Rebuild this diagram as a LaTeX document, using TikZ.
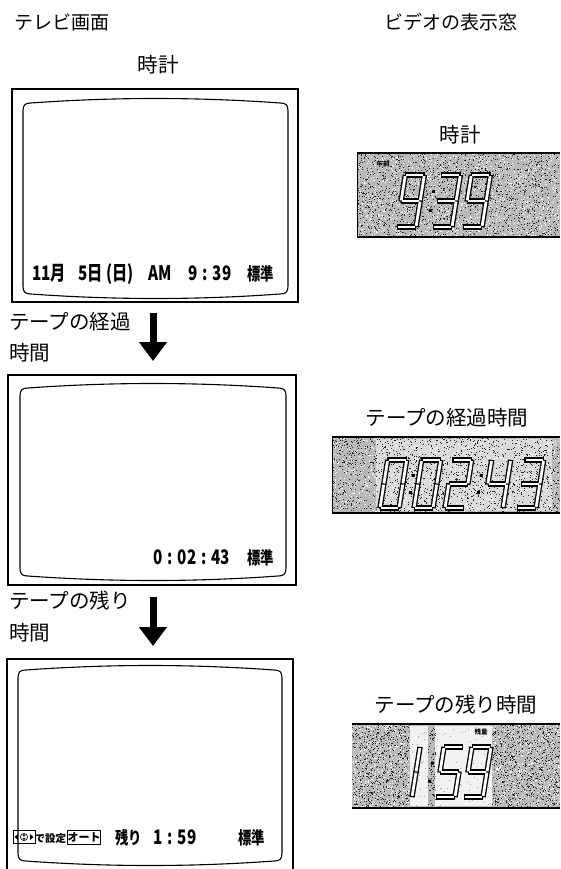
\documentclass[tikz,border=0pt]{standalone}
\usepackage{fontspec}
\setmainfont{Noto Sans CJK JP}
\newfontfamily\osdfont[FakeStretch=0.76]{Noto Sans CJK JP}
\newfontfamily\dejavu{DejaVu Sans}
\usetikzlibrary{arrows.meta}

\tikzset{
  outerbox/.style={line width=2pt},
  screen/.style={line width=1.1pt, line join=round},
  ttl/.style={font=\fontsize{19}{22}\selectfont, inner sep=0pt},
  lbl/.style={font=\fontsize{20.5}{24}\selectfont, inner sep=0pt},
  osd/.style={font=\osdfont\bfseries\fontsize{20}{22}\selectfont, inner sep=0pt, anchor=base west},
  osdk/.style={font=\osdfont\bfseries\fontsize{17.5}{20}\selectfont, inner sep=0pt, anchor=base west},
  osds/.style={font=\bfseries\fontsize{10.5}{12}\selectfont, inner sep=0pt, anchor=base west},
  flow/.style={line width=7pt, -{Triangle[length=19pt,width=27pt]}},
  segout/.style={line width=5.4pt, line cap=rect, black},
  segin/.style={line width=2.8pt, line cap=rect, white},
  tiny/.style={font=\bfseries\fontsize{6.5}{7}\selectfont, inner sep=0pt},
  dispedge/.style={line width=1.6pt},
}

% inner TV screen: x1, ytop, x2, ybottom
\newcommand\tvscreen[4]{%
  \draw[screen] (#1,#2+8) .. controls (#1,#2+2) and (#1+2,#2) .. (#1+8,#2)
    .. controls ({#1+8+(#3-#1-16)/3},#2-6) and ({#3-8-(#3-#1-16)/3},#2-6) .. (#3-8,#2)
    .. controls (#3-2,#2) and (#3,#2+2) .. (#3,#2+8)
    -- (#3,#4-8) .. controls (#3,#4-2) and (#3-2,#4) .. (#3-8,#4)
    .. controls ({#3-8-(#3-#1-16)/3},#4+6) and ({#1+8+(#3-#1-16)/3},#4+6) .. (#1+8,#4)
    .. controls (#1+2,#4) and (#1,#4-2) .. (#1,#4-8) -- cycle;}

% random speckle texture
\newcommand\speckle[6]{%
  \foreach \i in {1,...,#5}{\fill[#6] ({#1+rnd*(#3-#1)},{#2+rnd*(#4-#2)}) rectangle ++(1,1);}}

% seven-segment digits
\newcommand\segA{\draw[segcur] (2.5,-\dH) -- (\dW-2.5,-\dH);}
\newcommand\segB{\draw[segcur] (\dW,-\dH+2.5) -- (\dW,-\dH/2-2);}
\newcommand\segC{\draw[segcur] (\dW,-\dH/2+2) -- (\dW,-2.5);}
\newcommand\segD{\draw[segcur] (2.5,0) -- (\dW-2.5,0);}
\newcommand\segE{\draw[segcur] (0,-\dH/2+2) -- (0,-2.5);}
\newcommand\segF{\draw[segcur] (0,-\dH+2.5) -- (0,-\dH/2-2);}
\newcommand\segG{\draw[segcur] (2.5,-\dH/2) -- (\dW-2.5,-\dH/2);}
\newcommand\sevdigit[5]{%
  \begin{scope}[shift={(#1,#2)},xslant=0.16]
    \def\dH{#3}\def\dW{#4}%
    \tikzset{segcur/.style={segout}}%
    \foreach \s in {#5}{\csname seg\s\endcsname}
    \tikzset{segcur/.style={segin}}%
    \foreach \s in {#5}{\csname seg\s\endcsname}
  \end{scope}}
\newcommand\sevcolon[3]{%
  \begin{scope}[shift={(#1,#2)},xslant=0.16]
    \fill[black] (-1.5,-#3*0.32-1.5) rectangle ++(3,3);
    \fill[black] (-1.5,-#3*0.68-1.5) rectangle ++(3,3);
  \end{scope}}

\begin{document}
\begin{tikzpicture}[x=1pt,y=-1pt]
\pgfmathsetseed{11}
\useasboundingbox (0,0) rectangle (560,869);
\fill[white] (0,0) rectangle (560,869);

% ---------- titles ----------
\node[ttl, anchor=west] (tvtitle) at (14,22) {テレビ画面};
\node[ttl, anchor=west] (vtitle) at (384,22) {ビデオの表示窓};
\node[lbl] (clk1) at (158,65) {時計};

% ---------- TV screen 1 ----------
\draw[outerbox] (12,89) rectangle (298,302);
\tvscreen{23}{103}{288}{294}
\node[osd] (s1a) at (32,280) {11月};
\node[osd] (s1b) at (78,280) {5日};
\node[osd] (s1c) at (106,280) {(日)};
\node[osd] (s1d) at (148,280) {AM};
\node[osd] (s1e) at (188,280) {9\hspace{5pt}:\hspace{5pt}39};
\node[osdk] (s1f) at (247,280) {標準};

% ---------- arrow 1 ----------
\node[lbl, anchor=west] (l1a) at (9,322) {テープの経過};
\node[lbl, anchor=west] (l1b) at (9,353) {時間};
\coordinate (a1s) at (153,313);
\coordinate (a1e) at (153,361);
\draw[flow] (a1s) -- (a1e);

% ---------- TV screen 2 ----------
\draw[outerbox] (8,375) rectangle (296,585);
\tvscreen{20}{388}{286}{576}
\node[osd] (s2a) at (153,564) {0\hspace{5pt}:\hspace{5pt}02\hspace{5pt}:\hspace{5pt}43};
\node[osdk] (s2b) at (247,564) {標準};

% ---------- arrow 2 ----------
\node[lbl, anchor=west] (l2a) at (9,601) {テープの残り};
\node[lbl, anchor=west] (l2b) at (9,633) {時間};
\coordinate (a2s) at (153,597);
\coordinate (a2e) at (153,646);
\draw[flow] (a2s) -- (a2e);

% ---------- TV screen 3 ----------
\draw[outerbox] (7,875) -- (7,659) -- (293,659) -- (293,875);
\tvscreen{18}{670}{282}{861}
\node[draw, line width=0.9pt, minimum width=22pt, minimum height=13pt, inner sep=0pt] (s3icon) at (24,837) {};
\fill (14.5,837) -- (18,834) -- (18,840) -- cycle;
\fill (33.5,837) -- (30,834) -- (30,840) -- cycle;
\draw[line width=0.6pt] (24,837) circle (3.6);
\fill (24,833.9) -- (22.3,836.2) -- (25.7,836.2) -- cycle;
\fill (24,840.1) -- (22.3,837.8) -- (25.7,837.8) -- cycle;
\node[osds] (s3a) at (34.5,842) {で設定};
\node[draw, line width=0.9pt, minimum width=32pt, minimum height=14pt, inner sep=0pt,
      font=\bfseries\fontsize{11}{12}\selectfont] (s3b) at (84,837) {オート};
\node[osdk] (s3c) at (115,844) {残り};
\node[osd] (s3d) at (153,844) {1\hspace{5pt}:\hspace{5pt}59};
\node[osdk] (s3e) at (238,844) {標準};

% ---------- video display 1 ----------
\node[lbl] (clk2) at (460,135) {時計};
\fill[gray!55] (357,153) rectangle (560,237);
\speckle{357}{153}{559}{236}{1600}{black!85}
\speckle{357}{153}{559}{236}{1500}{white}
\draw[dispedge] (357,153) -- (560,153);
\draw[dispedge] (357,237) -- (560,237);
\draw[line width=0.8pt] (357,153) -- (357,237);
\node[tiny] (gozen) at (383,164) {午前};
\sevdigit{397}{227}{52}{19}{A,B,C,D,F,G}
\sevcolon{428}{227}{52}
\sevdigit{433}{227}{52}{19}{A,B,C,D,G}
\sevdigit{463}{227}{52}{19}{A,B,C,D,F,G}

% ---------- video display 2 ----------
\node[lbl] (elap) at (447,418) {テープの経過時間};
\fill[gray!55] (332,437) rectangle (560,513);
\fill[gray!30] (376,439) rectangle (552,511);
\speckle{332}{437}{559}{512}{1600}{black!85}
\speckle{332}{437}{559}{512}{1300}{white}
\draw[dispedge] (332,437) -- (560,437);
\draw[dispedge] (332,513) -- (560,513);
\draw[line width=0.8pt] (332,437) -- (332,513);
\sevdigit{380}{508}{48}{19}{A,B,C,D,E,F}
\sevcolon{408}{508}{48}
\sevdigit{414}{508}{48}{19}{A,B,C,D,E,F}
\sevdigit{445}{508}{48}{19}{A,B,G,E,D}
\sevcolon{476}{508}{48}
\sevdigit{484}{508}{48}{19}{F,G,B,C}
\sevdigit{517}{508}{48}{19}{A,B,C,D,G}

% ---------- video display 3 ----------
\node[lbl] (remain) at (456,705) {テープの残り時間};
\fill[gray!55] (352,724) rectangle (560,808);
\fill[gray!10] (410,726) rectangle (428,806);
\fill[gray!10] (435,726) rectangle (492,806);
\speckle{352}{724}{409}{807}{700}{black!85}
\speckle{352}{724}{409}{807}{500}{white}
\speckle{492}{724}{559}{807}{800}{black!85}
\speckle{492}{724}{559}{807}{600}{white}
\speckle{428}{724}{435}{807}{80}{black!85}
\speckle{410}{726}{492}{806}{120}{gray!70}
\draw[dispedge] (352,724) -- (560,724);
\draw[dispedge] (352,808) -- (560,808);
\node[tiny] (zanryo) at (481,732) {残量};
\sevdigit{393}{797}{50}{19}{B,C}
\sevcolon{427}{797}{50}
\sevdigit{436}{797}{50}{19}{A,F,G,C,D}
\sevdigit{464}{797}{50}{19}{A,B,C,D,F,G}
\end{tikzpicture}
\end{document}
